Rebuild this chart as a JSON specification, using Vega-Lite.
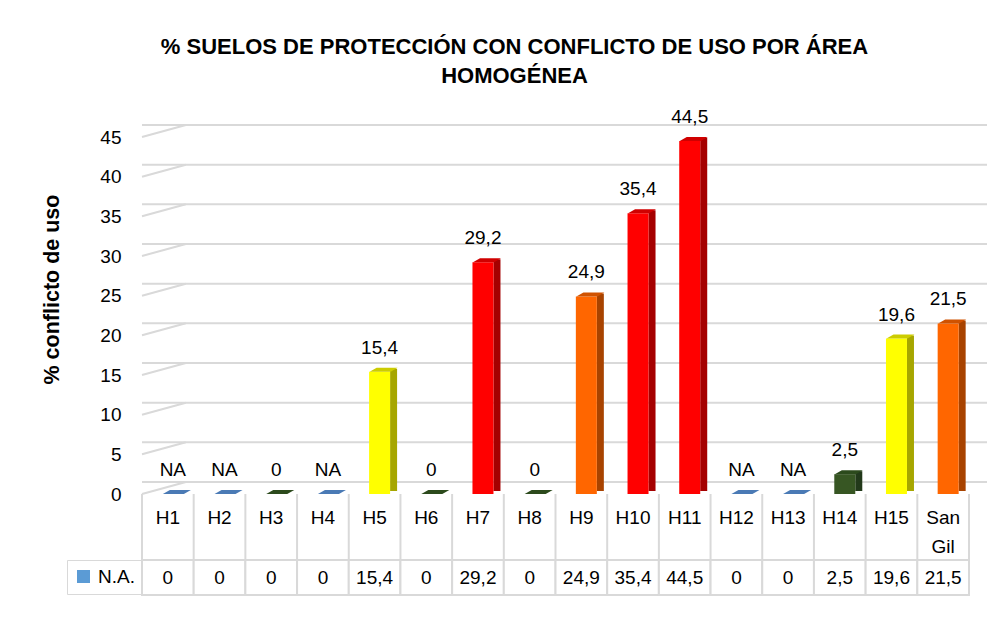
{
  "$schema": "https://vega.github.io/schema/vega-lite/v6.json",
  "background": "white",
  "padding": {"left": 41, "top": 35, "right": 10, "bottom": 10},
  "autosize": {"type": "pad"},
  "datasets": {
    "datos": [
      {"area": "H1", "valor": 0, "etiqueta": "NA", "grupo": "NA"},
      {"area": "H2", "valor": 0, "etiqueta": "NA", "grupo": "NA"},
      {"area": "H3", "valor": 0, "etiqueta": "0", "grupo": "Bajo"},
      {"area": "H4", "valor": 0, "etiqueta": "NA", "grupo": "NA"},
      {"area": "H5", "valor": 15.4, "etiqueta": "15,4", "grupo": "Moderado"},
      {"area": "H6", "valor": 0, "etiqueta": "0", "grupo": "Bajo"},
      {"area": "H7", "valor": 29.2, "etiqueta": "29,2", "grupo": "Muy alto"},
      {"area": "H8", "valor": 0, "etiqueta": "0", "grupo": "Bajo"},
      {"area": "H9", "valor": 24.9, "etiqueta": "24,9", "grupo": "Alto"},
      {"area": "H10", "valor": 35.4, "etiqueta": "35,4", "grupo": "Muy alto"},
      {"area": "H11", "valor": 44.5, "etiqueta": "44,5", "grupo": "Muy alto"},
      {"area": "H12", "valor": 0, "etiqueta": "NA", "grupo": "NA"},
      {"area": "H13", "valor": 0, "etiqueta": "NA", "grupo": "NA"},
      {"area": "H14", "valor": 2.5, "etiqueta": "2,5", "grupo": "Bajo"},
      {"area": "H15", "valor": 19.6, "etiqueta": "19,6", "grupo": "Moderado"},
      {"area": "San Gil", "valor": 21.5, "etiqueta": "21,5", "grupo": "Alto"}
    ],
    "rejilla": [
      {"v": 0}, {"v": 5}, {"v": 10}, {"v": 15}, {"v": 20},
      {"v": 25}, {"v": 30}, {"v": 35}, {"v": 40}, {"v": 45}
    ]
  },
  "spacing": 0,
  "bounds": "flush",
  "resolve": {"scale": {"color": "independent"}, "legend": {"color": "independent"}},
  "vconcat": [
    {
      "width": 827,
      "height": 357,
      "title": {
        "text": ["% SUELOS DE PROTECCIÓN CON CONFLICTO DE USO POR ÁREA", "HOMOGÉNEA"],
        "dx": -41,
        "offset": 20
      },
      "data": {"name": "datos"},
      "layer": [
        {
          "data": {"name": "rejilla"},
          "mark": {"type": "rule", "color": "#d9d9d9", "strokeWidth": 2, "xOffset": 18, "x2Offset": 18, "yOffset": -12},
          "encoding": {
            "y": {"field": "v", "type": "quantitative", "scale": {"domain": [0, 45], "nice": false},
                  "axis": {"title": "% conflicto de uso", "titleY": 152, "values": [0, 5, 10, 15, 20, 25, 30, 35, 40, 45]}}
          }
        },
        {
          "data": {"name": "rejilla"},
          "mark": {"type": "rule", "color": "#d9d9d9", "strokeWidth": 2, "x2Offset": 18, "y2Offset": -12},
          "encoding": {
            "x": {"datum": "H1", "type": "nominal", "bandPosition": 0,
                  "scale": {"domain": ["H1","H2","H3","H4","H5","H6","H7","H8","H9","H10","H11","H12","H13","H14","H15","San Gil"], "paddingInner": 0, "paddingOuter": 0}, "axis": null},
            "x2": {"datum": "H1"},
            "y": {"field": "v", "type": "quantitative", "axis": {"title": "% conflicto de uso", "titleY": 152, "values": [0, 5, 10, 15, 20, 25, 30, 35, 40, 45]}},
            "y2": {"field": "v"}
          }
        },
        {
          "transform": [{"filter": "datum.valor > 0"}],
          "mark": {"type": "bar", "size": 7, "xOffset": 19, "yOffset": -3, "y2Offset": -1},
          "encoding": {
            "x": {"field": "area", "type": "nominal",
                  "scale": {"domain": ["H1","H2","H3","H4","H5","H6","H7","H8","H9","H10","H11","H12","H13","H14","H15","San Gil"], "paddingInner": 0, "paddingOuter": 0}, "axis": null},
            "y": {"field": "valor", "type": "quantitative", "axis": {"title": "% conflicto de uso", "titleY": 152, "values": [0, 5, 10, 15, 20, 25, 30, 35, 40, 45]}},
            "color": {"field": "grupo", "type": "nominal", "legend": null,
                      "scale": {"domain": ["NA", "Bajo", "Moderado", "Alto", "Muy alto"], "range": ["#3a6190", "#22391a", "#a6a600", "#a84300", "#a50000"]}}
          }
        },
        {
          "transform": [{"filter": "datum.valor > 0"}],
          "mark": {"type": "bar", "size": 21, "xOffset": 5},
          "encoding": {
            "x": {"field": "area", "type": "nominal",
                  "scale": {"domain": ["H1","H2","H3","H4","H5","H6","H7","H8","H9","H10","H11","H12","H13","H14","H15","San Gil"], "paddingInner": 0, "paddingOuter": 0}, "axis": null},
            "y": {"field": "valor", "type": "quantitative", "axis": {"title": "% conflicto de uso", "titleY": 152, "values": [0, 5, 10, 15, 20, 25, 30, 35, 40, 45]}},
            "color": {"field": "grupo", "type": "nominal", "legend": null,
                      "scale": {"domain": ["NA", "Bajo", "Moderado", "Alto", "Muy alto"], "range": ["#4f81bd", "#375623", "#ffff00", "#ff6600", "#ff0000"]}}
          }
        },
        {
          "mark": {"type": "point", "filled": true, "opacity": 1, "strokeWidth": 0, "size": 784, "xOffset": 9, "yOffset": -2,
                   "shape": "M -1 0.143 L -0.5 -0.143 L 1 -0.143 L 0.5 0.143 Z"},
          "encoding": {
            "x": {"field": "area", "type": "nominal",
                  "scale": {"domain": ["H1","H2","H3","H4","H5","H6","H7","H8","H9","H10","H11","H12","H13","H14","H15","San Gil"], "paddingInner": 0, "paddingOuter": 0}, "axis": null},
            "y": {"field": "valor", "type": "quantitative", "axis": {"title": "% conflicto de uso", "titleY": 152, "values": [0, 5, 10, 15, 20, 25, 30, 35, 40, 45]}},
            "color": {"field": "grupo", "type": "nominal", "legend": null,
                      "scale": {"domain": ["NA", "Bajo", "Moderado", "Alto", "Muy alto"], "range": ["#4a7ab5", "#2c4a1c", "#cccc00", "#d05200", "#d00000"]}}
          }
        },
        {
          "mark": {"type": "text", "xOffset": 5, "dy": -24, "baseline": "middle"},
          "encoding": {
            "x": {"field": "area", "type": "nominal",
                  "scale": {"domain": ["H1","H2","H3","H4","H5","H6","H7","H8","H9","H10","H11","H12","H13","H14","H15","San Gil"], "paddingInner": 0, "paddingOuter": 0}, "axis": null},
            "y": {"field": "valor", "type": "quantitative", "axis": {"title": "% conflicto de uso", "titleY": 152, "values": [0, 5, 10, 15, 20, 25, 30, 35, 40, 45]}},
            "text": {"field": "etiqueta"}
          }
        }
      ],
      "resolve": {"scale": {"color": "independent"}}
    },
    {
      "width": 827,
      "height": 66,
      "data": {"name": "datos"},
      "layer": [
        {
          "mark": {"type": "rule", "color": "#d9d9d9", "strokeWidth": 2},
          "encoding": {
            "x": {"field": "area", "type": "nominal", "bandPosition": 0,
                  "scale": {"domain": ["H1","H2","H3","H4","H5","H6","H7","H8","H9","H10","H11","H12","H13","H14","H15","San Gil"], "paddingInner": 0, "paddingOuter": 0}, "axis": null}
          }
        },
        {
          "transform": [{"filter": "datum.area === 'San Gil'"}],
          "mark": {"type": "rule", "color": "#d9d9d9", "strokeWidth": 2},
          "encoding": {
            "x": {"field": "area", "type": "nominal", "bandPosition": 1,
                  "scale": {"domain": ["H1","H2","H3","H4","H5","H6","H7","H8","H9","H10","H11","H12","H13","H14","H15","San Gil"], "paddingInner": 0, "paddingOuter": 0}, "axis": null}
          }
        },
        {
          "mark": {"type": "text", "lineBreak": " ", "baseline": "top", "dy": -18, "lineHeight": 29},
          "encoding": {
            "x": {"field": "area", "type": "nominal",
                  "scale": {"domain": ["H1","H2","H3","H4","H5","H6","H7","H8","H9","H10","H11","H12","H13","H14","H15","San Gil"], "paddingInner": 0, "paddingOuter": 0}, "axis": null},
            "text": {"field": "area"}
          }
        }
      ]
    },
    {
      "width": 827,
      "height": 35,
      "data": {"name": "datos"},
      "layer": [
        {
          "mark": {"type": "rect", "fill": "white", "stroke": "#d9d9d9", "strokeWidth": 2},
          "encoding": {
            "x": {"field": "area", "type": "nominal",
                  "scale": {"domain": ["H1","H2","H3","H4","H5","H6","H7","H8","H9","H10","H11","H12","H13","H14","H15","San Gil"], "paddingInner": 0, "paddingOuter": 0}, "axis": null}
          }
        },
        {
          "mark": {"type": "point", "filled": true, "shape": "square", "size": 0, "opacity": 1},
          "encoding": {
            "x": {"field": "area", "type": "nominal",
                  "scale": {"domain": ["H1","H2","H3","H4","H5","H6","H7","H8","H9","H10","H11","H12","H13","H14","H15","San Gil"], "paddingInner": 0, "paddingOuter": 0}, "axis": null},
            "color": {"datum": "N.A.", "type": "nominal", "scale": {"range": ["#5b9bd5"]},
                      "legend": {"title": null, "orient": "left", "offset": 0, "symbolType": "square", "symbolSize": 169,
                                 "labelFontSize": 19, "labelOffset": 5, "padding": 7, "strokeColor": "#d9d9d9"}}
          }
        },
        {
          "mark": {"type": "text"},
          "encoding": {
            "x": {"field": "area", "type": "nominal",
                  "scale": {"domain": ["H1","H2","H3","H4","H5","H6","H7","H8","H9","H10","H11","H12","H13","H14","H15","San Gil"], "paddingInner": 0, "paddingOuter": 0}, "axis": null},
            "text": {"field": "valor", "type": "quantitative", "format": "~r"}
          }
        }
      ]
    }
  ],
  "config": {
    "view": {"stroke": null},
    "font": "Liberation Sans, Arial, sans-serif",
    "text": {"font": "Liberation Sans, Arial, sans-serif", "fontSize": 19, "color": "#000000"},
    "axis": {"grid": false, "domain": false, "ticks": false,
             "labelFont": "Liberation Sans, Arial, sans-serif", "labelFontSize": 19, "labelColor": "#000000",
             "titleFont": "Liberation Sans, Arial, sans-serif", "titleFontSize": 21.5, "titleFontWeight": "bold", "titleColor": "#000000",
             "labelPadding": 21, "titlePadding": 36},
    "title": {"font": "Liberation Sans, Arial, sans-serif", "fontSize": 22, "fontWeight": "bold", "color": "#000000", "lineHeight": 29},
    "legend": {"labelFont": "Liberation Sans, Arial, sans-serif", "labelColor": "#000000"},
    "locale": {"number": {"decimal": ",", "thousands": ".", "grouping": [3], "currency": ["", " €"]}}
  }
}
